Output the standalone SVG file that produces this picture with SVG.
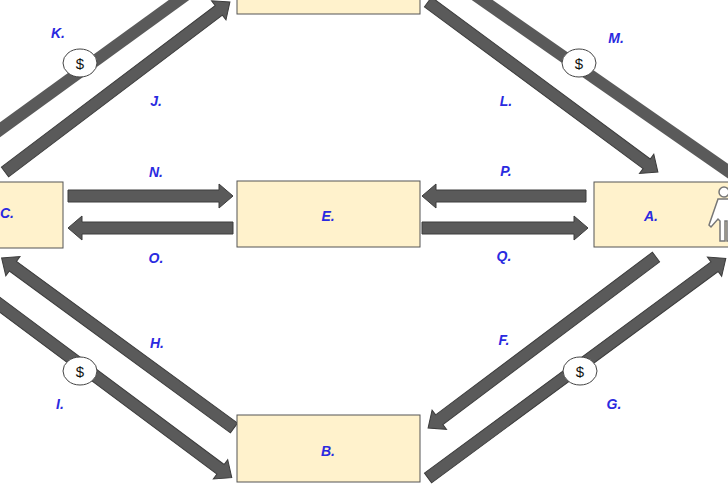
<svg xmlns="http://www.w3.org/2000/svg" width="728" height="484" viewBox="0 0 728 484">
<style>
.box{fill:#fff2cc;stroke:#555;stroke-width:1}
.ar{fill:#5a5a5a;stroke:#3c3c3c;stroke-width:1}
.sh{stroke:#5a5a5a;stroke-width:12}
.lb{font-family:"Liberation Sans",Arial,sans-serif;font-size:14px;font-weight:bold;font-style:italic;fill:#2a2ae0;text-anchor:middle}
.coin{fill:#fff;stroke:#444;stroke-width:1}
.ds{font-family:"Liberation Sans",Arial,sans-serif;font-size:15px;fill:#111;text-anchor:middle}
</style>
<rect width="728" height="484" fill="#fff"/>
<g id="connectors">
<polygon class="ar" transform="translate(5,172) rotate(-37.1)" points="0,-6 268,-6 268,-12 282,0 268,12 268,6 0,6"/>
<polygon class="ar" transform="translate(428,2) rotate(36.5)" points="0,-6 272,-6 272,-12 286,0 272,12 272,6 0,6"/>
<polygon class="ar" transform="translate(234,428) rotate(216.2)" points="0,-6 274,-6 274,-12 288,0 274,12 274,6 0,6"/>
<polygon class="ar" transform="translate(656,257) rotate(143.1)" points="0,-6 271,-6 271,-12 285,0 271,12 271,6 0,6"/>
<polygon class="ar" transform="translate(428,478) rotate(-36.4)" points="0,-6 356,-6 356,-12 370,0 356,12 356,6 0,6"/>
<polygon class="ar" transform="translate(-20,290) rotate(36.7)" points="0,-6 300,-6 300,-12 314,0 300,12 300,6 0,6"/>
<line class="sh" x1="-10" y1="137" x2="190" y2="-8"/>
<line class="sh" x1="475" y1="-5" x2="735" y2="176"/>
<polygon class="ar" transform="translate(68,196)" points="0,-6 151,-6 151,-12 165,0 151,12 151,6 0,6"/>
<polygon class="ar" transform="translate(233,228) rotate(180)" points="0,-6 151,-6 151,-12 165,0 151,12 151,6 0,6"/>
<polygon class="ar" transform="translate(586,196) rotate(180)" points="0,-6 150,-6 150,-12 164,0 150,12 150,6 0,6"/>
<polygon class="ar" transform="translate(422,228)" points="0,-6 152,-6 152,-12 166,0 152,12 152,6 0,6"/>
<g id="coins">
<ellipse class="coin" cx="80" cy="63" rx="17" ry="14"/><text class="ds" x="80" y="69">$</text>
<ellipse class="coin" cx="579" cy="63" rx="17" ry="14"/><text class="ds" x="579" y="69">$</text>
<ellipse class="coin" cx="80" cy="371" rx="17" ry="14"/><text class="ds" x="80" y="377">$</text>
<ellipse class="coin" cx="580" cy="371" rx="17" ry="14"/><text class="ds" x="580" y="377">$</text>
</g>
<g id="labels">
<text class="lb" x="58" y="38">K.</text><text class="lb" x="156" y="106">J.</text>
<text class="lb" x="616" y="43">M.</text><text class="lb" x="506" y="106">L.</text>
<text class="lb" x="156" y="177">N.</text><text class="lb" x="156" y="263">O.</text>
<text class="lb" x="506" y="176">P.</text><text class="lb" x="504" y="261">Q.</text>
<text class="lb" x="157" y="348">H.</text><text class="lb" x="60" y="409">I.</text>
<text class="lb" x="504" y="345">F.</text><text class="lb" x="614" y="409">G.</text>
</g>
</g>
<g id="nodeD"><rect class="box" x="237" y="-20" width="183" height="34"/></g>
<g id="nodeE"><rect class="box" x="237" y="181" width="183" height="66"/><text class="lb" x="328" y="221">E.</text></g>
<g id="nodeC"><rect class="box" x="-20" y="182" width="83" height="66"/><text class="lb" x="7" y="218">C.</text></g>
<g id="nodeA"><rect class="box" x="594" y="182" width="150" height="65"/><text class="lb" x="651" y="221">A.</text>
<g fill="#fff" stroke="#777" stroke-width="1.5"><circle cx="724" cy="192" r="5"/><path d="M718,199 h14 v42 h-5 v-20 h-2 v20 h-5 v-20 l-2,-2 l-7,8 l-2,-2 z"/></g></g>
<g id="nodeB"><rect class="box" x="237" y="415" width="183" height="67"/><text class="lb" x="328" y="456">B.</text></g>
</svg>
